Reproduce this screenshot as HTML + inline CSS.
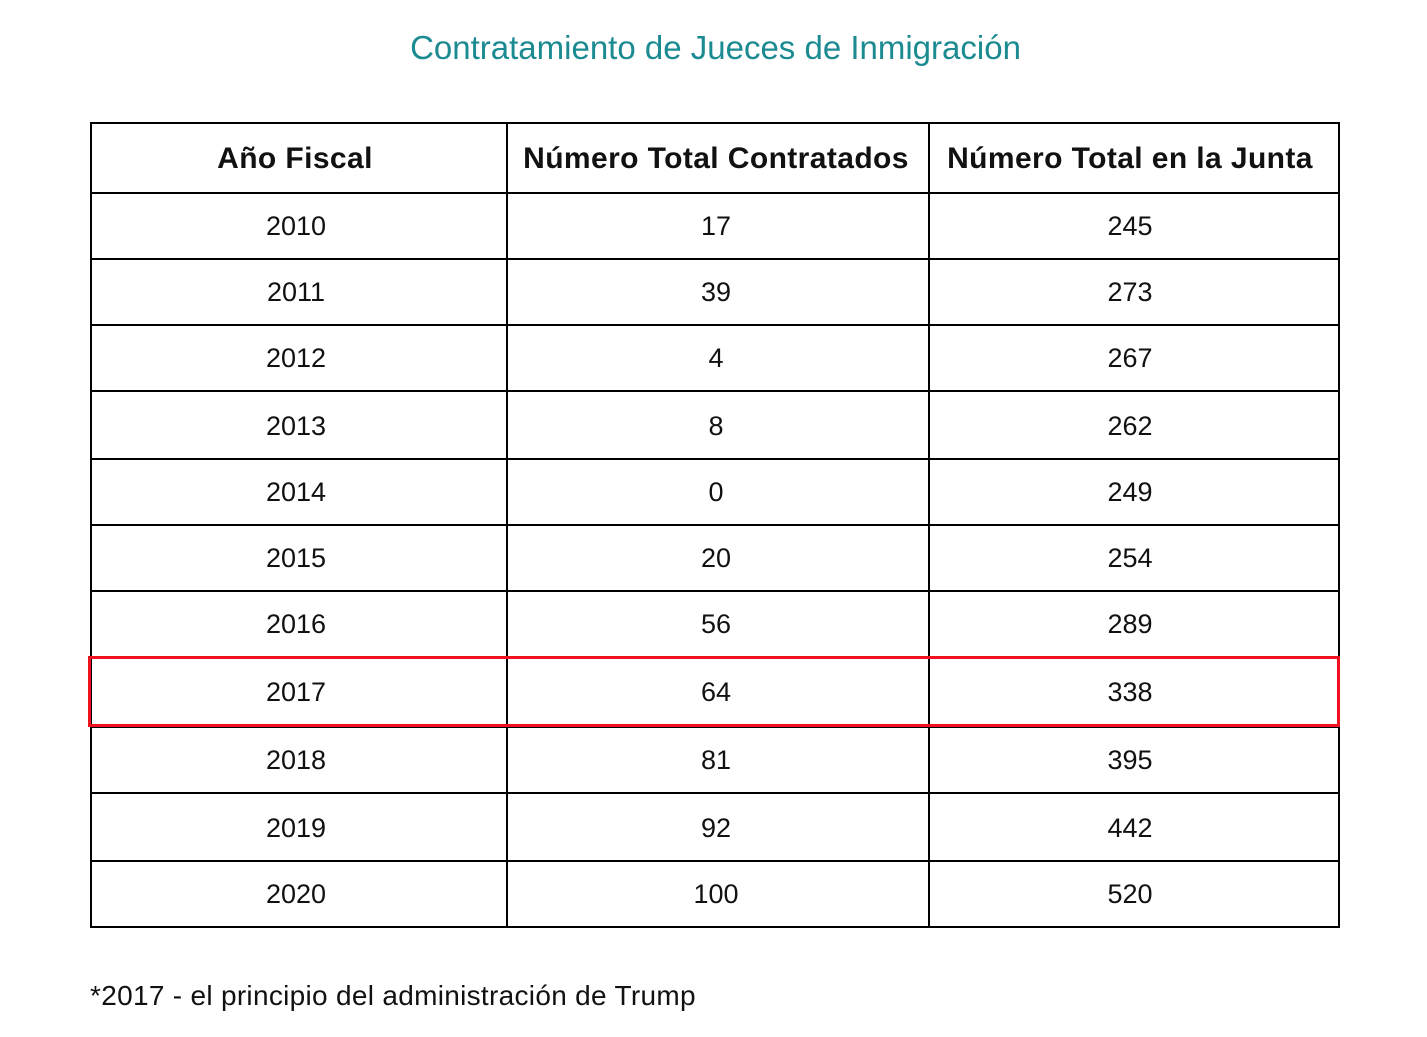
<!DOCTYPE html>
<html><head><meta charset="utf-8"><style>
body{margin:0;width:1427px;height:1037px;background:#fff;position:relative;font-family:"Liberation Sans",sans-serif;overflow:hidden}
.t{position:absolute;width:1427px;top:29px;text-align:center;color:#1b8a91;font-size:33px;left:2px}
.h{position:absolute;background:#000;height:2px;left:90px;width:1250px}
.v{position:absolute;background:#000;width:2px;top:123px;height:805px}
.c{position:absolute;text-align:center;font-size:27px;color:#111;line-height:1}
.b{font-weight:bold;font-size:30px;letter-spacing:0.4px}
.r{position:absolute;left:88px;top:656px;width:1246px;height:65px;border:3px solid #f0121f}
.f{position:absolute;left:90px;top:980px;font-size:28px;color:#111;letter-spacing:0.3px}
</style></head><body>
<div class="t">Contratamiento de Jueces de Inmigración</div>
<div class="h" style="top:122px"></div>
<div class="h" style="top:192px"></div>
<div class="h" style="top:258px"></div>
<div class="h" style="top:324px"></div>
<div class="h" style="top:390px"></div>
<div class="h" style="top:458px"></div>
<div class="h" style="top:524px"></div>
<div class="h" style="top:590px"></div>
<div class="h" style="top:726px"></div>
<div class="h" style="top:792px"></div>
<div class="h" style="top:860px"></div>
<div class="h" style="top:926px"></div>
<div class="v" style="left:90px"></div>
<div class="v" style="left:506px"></div>
<div class="v" style="left:928px"></div>
<div class="v" style="left:1338px"></div>
<div class="r"></div>
<div class="c b" style="left:88px;width:414px;top:144px">Año Fiscal</div>
<div class="c b" style="left:506px;width:420px;top:144px">Número Total Contratados</div>
<div class="c b" style="left:926px;width:408px;top:144px">Número Total en la Junta</div>
<div class="c" style="left:89px;width:414px;top:213px">2010</div>
<div class="c" style="left:506px;width:420px;top:213px">17</div>
<div class="c" style="left:926px;width:408px;top:213px">245</div>
<div class="c" style="left:89px;width:414px;top:279px">2011</div>
<div class="c" style="left:506px;width:420px;top:279px">39</div>
<div class="c" style="left:926px;width:408px;top:279px">273</div>
<div class="c" style="left:89px;width:414px;top:345px">2012</div>
<div class="c" style="left:506px;width:420px;top:345px">4</div>
<div class="c" style="left:926px;width:408px;top:345px">267</div>
<div class="c" style="left:89px;width:414px;top:413px">2013</div>
<div class="c" style="left:506px;width:420px;top:413px">8</div>
<div class="c" style="left:926px;width:408px;top:413px">262</div>
<div class="c" style="left:89px;width:414px;top:479px">2014</div>
<div class="c" style="left:506px;width:420px;top:479px">0</div>
<div class="c" style="left:926px;width:408px;top:479px">249</div>
<div class="c" style="left:89px;width:414px;top:545px">2015</div>
<div class="c" style="left:506px;width:420px;top:545px">20</div>
<div class="c" style="left:926px;width:408px;top:545px">254</div>
<div class="c" style="left:89px;width:414px;top:611px">2016</div>
<div class="c" style="left:506px;width:420px;top:611px">56</div>
<div class="c" style="left:926px;width:408px;top:611px">289</div>
<div class="c" style="left:89px;width:414px;top:679px">2017</div>
<div class="c" style="left:506px;width:420px;top:679px">64</div>
<div class="c" style="left:926px;width:408px;top:679px">338</div>
<div class="c" style="left:89px;width:414px;top:747px">2018</div>
<div class="c" style="left:506px;width:420px;top:747px">81</div>
<div class="c" style="left:926px;width:408px;top:747px">395</div>
<div class="c" style="left:89px;width:414px;top:815px">2019</div>
<div class="c" style="left:506px;width:420px;top:815px">92</div>
<div class="c" style="left:926px;width:408px;top:815px">442</div>
<div class="c" style="left:89px;width:414px;top:881px">2020</div>
<div class="c" style="left:506px;width:420px;top:881px">100</div>
<div class="c" style="left:926px;width:408px;top:881px">520</div>
<div class="f">*2017 - el principio del administración de Trump</div>
</body></html>
